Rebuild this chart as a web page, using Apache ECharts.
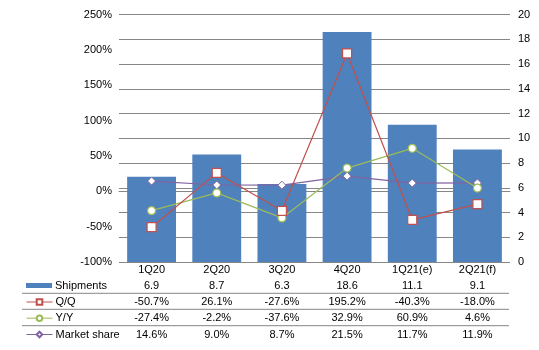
<!DOCTYPE html>
<html>
<head>
<meta charset="utf-8">
<script src="https://cdn.jsdelivr.net/npm/echarts@6/dist/echarts.min.js"></script>
<style>
  html, body { margin: 0; padding: 0; background: #fff; }
  #chart { width: 539px; height: 350px; }
</style>
</head>
<body>
<div id="chart"></div>
<script>
const categories = ['1Q20', '2Q20', '3Q20', '4Q20', '1Q21(e)', '2Q21(f)'];
const shipments = [6.9, 8.7, 6.3, 18.6, 11.1, 9.1];
const qoq = [-50.7, 26.1, -27.6, 195.2, -40.3, -18.0];
const yoy = [-27.4, -2.2, -37.6, 32.9, 60.9, 4.6];
const marketShare = [14.6, 9.0, 8.7, 21.5, 11.7, 11.9];

const font = 'Liberation Sans, Arial, sans-serif';
const gridColor = '#868686';

const pct = v => v.toFixed(1) + '%';
const rows = [
  { name: 'Shipments', labels: shipments.map(v => v.toFixed(1)), offset: 16 },
  { name: 'Q/Q', labels: qoq.map(pct), offset: 32.5 },
  { name: 'Y/Y', labels: yoy.map(pct), offset: 48.8 },
  { name: 'Market share', labels: marketShare.map(pct), offset: 65 }
];

// table rows drawn as extra category axes under the plot
const tableAxes = rows.map(r => ({
  type: 'category',
  data: r.labels,
  position: 'bottom',
  offset: r.offset,
  axisLine: { show: false },
  axisTick: { show: false },
  axisLabel: { color: '#000', fontSize: 11, fontFamily: font, margin: 2 }
}));

const rowCenters = [286.5, 303, 319.2, 335.5];
const legends = rows.map((r, i) => ({
  data: [i === 0 ? { name: r.name, icon: 'rect' } : r.name],
  left: 26,
  top: rowCenters[i] - 6.5,
  padding: 0,
  itemWidth: 26,
  itemHeight: i === 0 ? 5 : 7,
  itemGap: 0,
  selectedMode: false,
  lineStyle: { width: 1 },
  textStyle: { color: '#000', fontSize: 11, fontFamily: font, padding: [0, 0, 0, -2] }
}));

const chart = echarts.init(document.getElementById('chart'));
chart.setOption({
  animation: false,
  textStyle: { fontFamily: font },
  grid: { left: 119, right: 29, top: 14.7, bottom: 88 },
  legend: legends,
  xAxis: [{
    type: 'category',
    data: categories,
    axisLine: { lineStyle: { color: gridColor } },
    axisTick: { show: false },
    axisLabel: { color: '#000', fontSize: 11, fontFamily: font, margin: 2 }
  }].concat(tableAxes),
  yAxis: [{
    type: 'value',
    min: -100,
    max: 250,
    interval: 50,
    axisLine: { show: false },
    axisTick: { show: false },
    splitLine: { show: false },
    axisLabel: { formatter: '{value}%', color: '#000', fontSize: 11, fontFamily: font, margin: 7 }
  }, {
    type: 'value',
    min: 0,
    max: 20,
    interval: 2,
    position: 'right',
    axisLine: { show: false },
    axisTick: { show: false },
    splitLine: { lineStyle: { color: gridColor } },
    axisLabel: { color: '#000', fontSize: 11, fontFamily: font, margin: 8 }
  }],
  graphic: [293.3, 309.3, 325.7].map(y => ({
    type: 'line',
    shape: { x1: 22, y1: y, x2: 509, y2: y },
    style: { stroke: gridColor, lineWidth: 1 }
  })),
  series: [{
    name: 'Shipments',
    type: 'bar',
    yAxisIndex: 1,
    barWidth: '75%',
    itemStyle: { color: '#4F81BD' },
    data: shipments
  }, {
    name: 'Q/Q',
    type: 'line',
    yAxisIndex: 0,
    symbol: 'rect',
    symbolSize: 9,
    lineStyle: { color: '#C0504D', width: 1.2 },
    itemStyle: { color: '#fff', borderColor: '#C0504D', borderWidth: 1.2 },
    data: qoq,
    z: 4
  }, {
    name: 'Y/Y',
    type: 'line',
    yAxisIndex: 0,
    symbol: 'circle',
    symbolSize: 8,
    lineStyle: { color: '#9BBB59', width: 1.2 },
    itemStyle: { color: '#fff', borderColor: '#9BBB59', borderWidth: 1.2 },
    data: yoy,
    z: 3
  }, {
    name: 'Market share',
    type: 'line',
    yAxisIndex: 0,
    symbol: 'diamond',
    symbolSize: 8,
    lineStyle: { color: '#8064A2', width: 1.2 },
    itemStyle: { color: '#fff', borderColor: '#8064A2', borderWidth: 1 },
    data: marketShare,
    z: 2
  }]
});
</script>
</body>
</html>
